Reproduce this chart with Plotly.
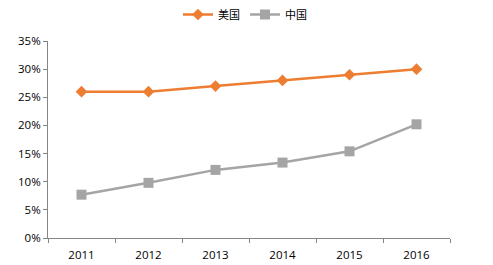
import plotly.graph_objects as go

years = ["2011", "2012", "2013", "2014", "2015", "2016"]
usa = [26, 26, 27, 28, 29, 30]
china = [7.7, 9.8, 12.1, 13.4, 15.4, 20.2]
y_ticks = [0, 5, 10, 15, 20, 25, 30, 35]
y_labels = [f"{v}%" for v in y_ticks]

fig = go.Figure()
fig.add_trace(go.Scatter(
    x=years, y=usa, name="美国", mode="lines+markers",
    line=dict(color="#ED7D31", width=2.5),
    marker=dict(symbol="diamond", size=9, color="#ED7D31"),
))
fig.add_trace(go.Scatter(
    x=years, y=china, name="中国", mode="lines+markers",
    line=dict(color="#A5A5A5", width=2.5),
    marker=dict(symbol="square", size=10, color="#A5A5A5"),
))

axis_font = dict(family="Open Sans, Liberation Sans, sans-serif", size=11.5, color="#000000")
fig.update_layout(
    width=493, height=265,
    margin=dict(l=48, r=43, t=41, b=27, autoexpand=False),
    paper_bgcolor="white", plot_bgcolor="white",
    showlegend=True,
    legend=dict(orientation="h", x=0.49, xanchor="center", y=1.0, yref="container",
                yanchor="top", font=dict(family="Noto Sans CJK SC", size=11, color="#000"),
                itemwidth=30, tracegroupgap=0),
    xaxis=dict(type="category", range=[-0.5, 5.5], showline=True, linecolor="#868686",
               linewidth=1, ticks="outside", tickson="boundaries", ticklen=4,
               tickcolor="#868686", showgrid=False, tickfont=axis_font, zeroline=False,
               ticklabelstandoff=6),
    yaxis=dict(range=[0, 35], tickvals=y_ticks, ticktext=y_labels, showline=True,
               linecolor="#868686", linewidth=1, ticks="outside", ticklen=4,
               tickcolor="#868686", showgrid=False, tickfont=axis_font, zeroline=False),
)
fig.write_html("out.html")
